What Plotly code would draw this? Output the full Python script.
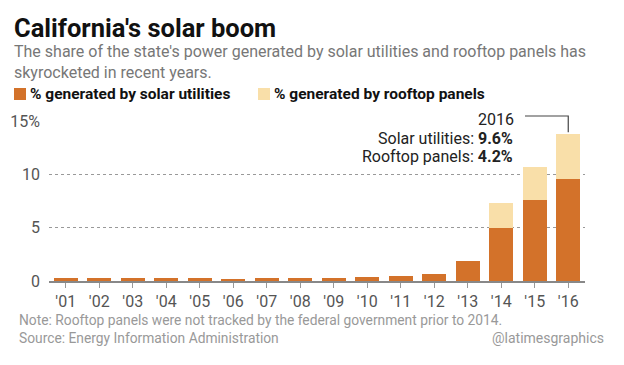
import plotly.graph_objects as go

years = ["'01", "'02", "'03", "'04", "'05", "'06", "'07", "'08",
         "'09", "'10", "'11", "'12", "'13", "'14", "'15", "'16"]
utilities = [0.25, 0.3, 0.28, 0.3, 0.28, 0.2, 0.25, 0.3,
             0.3, 0.4, 0.5, 0.7, 1.9, 5.0, 7.6, 9.6]
rooftop = [0, 0, 0, 0, 0, 0, 0, 0,
           0, 0, 0, 0, 0, 2.3, 3.1, 4.2]
y_tickvals = [0, 5, 10, 15]
y_ticktext = ["0", "5", "10", "15%"]

ORANGE = "#d3722a"
BEIGE = "#f9dfa9"
FONT = "Roboto, Liberation Sans, sans-serif"

OFF = 8  # page body margin
W, H = 624 - OFF, 365 - OFF
# target pixel positions in the 624x365 page
PL, PR, PT, PB = 49, 585, 121, 281
ML, MR, MT, MB = PL - OFF, 624 - PR, PT - OFF, 365 - PB
YMAX = 15


def px(x):
    return (x - PL) / (PR - PL)


def py(y):
    return (PB - y) / (PB - PT)


fig = go.Figure()
fig.add_trace(go.Bar(x=years, y=utilities, marker=dict(color=ORANGE, line=dict(width=0)),
                     name="% generated by solar utilities", showlegend=False))
fig.add_trace(go.Bar(x=years, y=rooftop, marker=dict(color=BEIGE, line=dict(width=0)),
                     name="% generated by rooftop panels", showlegend=False))

fig.update_layout(
    width=W, height=H, barmode="stack", bargap=0.28,
    margin=dict(l=ML, r=MR, t=MT, b=MB, autoexpand=False),
    paper_bgcolor="white", plot_bgcolor="white",
    font=dict(family=FONT, color="#555"),
    xaxis=dict(showgrid=False, showline=True, linecolor="#888", linewidth=1.5,
               ticks="outside", ticklen=5, tickcolor="#999", tickwidth=1,
               tickfont=dict(size=16, color="#555", family=FONT), automargin=False,
               range=[-0.5, len(years) - 0.5], fixedrange=True),
    yaxis=dict(range=[0, YMAX], tickvals=y_tickvals, ticktext=y_ticktext,
               showgrid=True, gridcolor="#999", griddash="dot", gridwidth=1,
               zeroline=False, showline=False, automargin=False,
               tickfont=dict(size=16, color="#555", family=FONT),
               ticklabelstandoff=8, fixedrange=True),
)

ann = []
ann.append(dict(text="<b>California's solar boom</b>", x=px(12), y=py(28), xref="paper", yref="paper",
                xanchor="left", yanchor="middle", showarrow=False,
                font=dict(size=25.5, color="#111", family=FONT)))
ann.append(dict(text="The share of the state's power generated by solar utilities and rooftop panels has<br>skyrocketed in recent years.",
                x=px(12), y=py(62), xref="paper", yref="paper", xanchor="left", yanchor="middle",
                align="left", showarrow=False, font=dict(size=16, color="#777", family=FONT)))
# legend
legend_items = [("% generated by solar utilities", ORANGE, 14), ("% generated by rooftop panels", BEIGE, 258)]
shapes = []
for label, col, x0 in legend_items:
    shapes.append(dict(type="rect", xref="paper", yref="paper", x0=px(x0), x1=px(x0 + 12),
                       y0=py(100), y1=py(88), fillcolor=col, line=dict(width=0)))
    ann.append(dict(text="<b>" + label + "</b>", x=px(x0 + 14), y=py(94), xref="paper", yref="paper",
                    xanchor="left", yanchor="middle", showarrow=False,
                    font=dict(size=15.5, color="#111", family=FONT)))

# 2016 callout
last = len(years) - 1
tot = utilities[last] + rooftop[last]
n = len(years)
ann.append(dict(text="20" + years[last][1:], x=px(519), y=py(119), xref="paper", yref="paper", xanchor="right",
                yanchor="middle", showarrow=False, bgcolor="white", borderpad=4,
                font=dict(size=16, color="#222", family=FONT)))
ann.append(dict(text="Solar utilities: <b>%.1f%%</b>" % utilities[last], x=px(515), y=py(138), xref="paper",
                yref="paper", xanchor="right", yanchor="middle", showarrow=False,
                font=dict(size=16, color="#222", family=FONT)))
ann.append(dict(text="Rooftop panels: <b>%.1f%%</b>" % rooftop[last], x=px(515), y=py(156), xref="paper",
                yref="paper", xanchor="right", yanchor="middle", showarrow=False,
                font=dict(size=16, color="#222", family=FONT)))
bar_x = (last + 0.5) / n
shapes.append(dict(type="path", xref="paper", yref="paper",
                   path="M %f,%f L %f,%f L %f,%f" % (px(525), py(116), bar_x, py(116), bar_x, (tot + 0.15) / YMAX),
                   line=dict(color="#444", width=1.2)))

# footer
ann.append(dict(text="Note: Rooftop panels were not tracked by the federal government prior to 2014.",
                x=px(17), y=py(320), xref="paper", yref="paper", xanchor="left", yanchor="middle",
                showarrow=False, font=dict(size=13.8, color="#999", family=FONT)))
ann.append(dict(text="Source: Energy Information Administration",
                x=px(17), y=py(338), xref="paper", yref="paper", xanchor="left", yanchor="middle",
                showarrow=False, font=dict(size=13.8, color="#999", family=FONT)))
ann.append(dict(text="@latimesgraphics",
                x=px(606), y=py(338), xref="paper", yref="paper", xanchor="right", yanchor="middle",
                showarrow=False, font=dict(size=14, color="#999", family=FONT)))

fig.update_layout(annotations=ann, shapes=shapes)
fig.write_html("out.html")
